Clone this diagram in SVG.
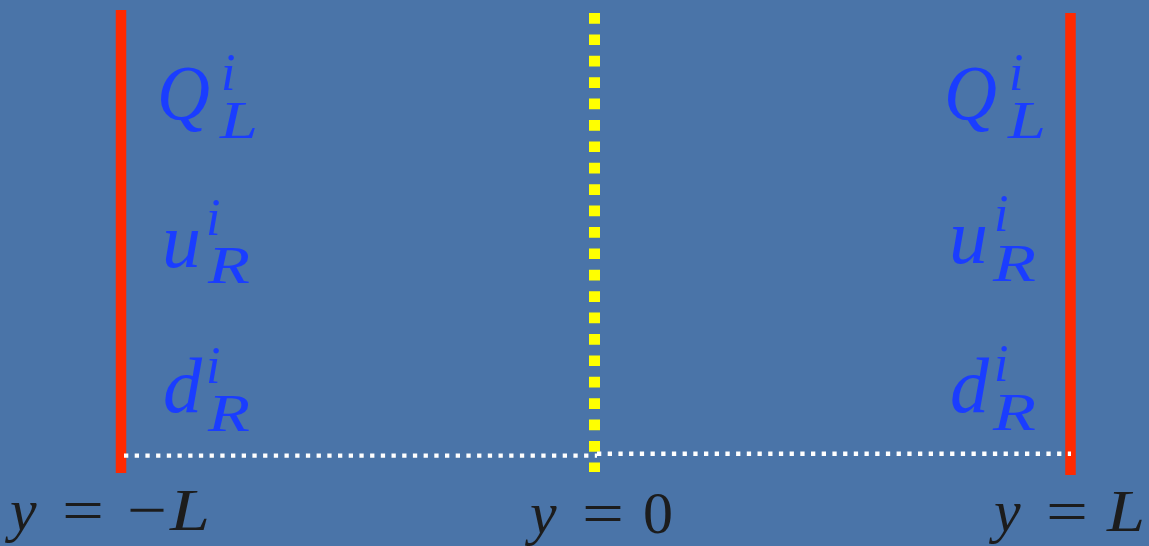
<svg xmlns="http://www.w3.org/2000/svg" width="1149" height="546" viewBox="0 0 1149 546">
<style>
.m{font-family:"Liberation Serif","DejaVu Serif",serif;font-style:italic;fill:#1a3dff}
.big{font-size:78px}
.sm{font-size:52px}
.lab{font-family:"Liberation Serif","DejaVu Serif",serif;font-size:60px;fill:#1c1c1c}
.it{font-style:italic}
.wall{stroke:#ff2a00;stroke-width:10.5}
.brane{stroke:#ffff00;stroke-width:11;stroke-dasharray:10.7 10.7}
.floor{stroke:#ffffff;stroke-width:4.4;stroke-dasharray:4.3 6.4}
</style>
<rect width="1149" height="546" fill="#4a74a8"/>
<g id="connectors">
<line class="wall" x1="121" y1="10" x2="121" y2="473"/>
<line class="wall" x1="1070.5" y1="13" x2="1070.5" y2="475"/>
<line class="brane" x1="594.5" y1="13" x2="594.5" y2="472"/>
<line class="floor" x1="124" y1="455.6" x2="597" y2="455.6"/>
<line class="floor" x1="597" y1="453.7" x2="1071" y2="453.7"/>
</g>
<g id="left-Q">
<text class="m"><tspan class="big" x="157" y="119" textLength="53" lengthAdjust="spacingAndGlyphs">Q</tspan><tspan class="sm" x="221" y="90">i</tspan><tspan class="sm" x="220" y="138" textLength="38" lengthAdjust="spacingAndGlyphs">L</tspan></text>
</g>
<g id="left-u">
<text class="m"><tspan class="big" x="162" y="267">u</tspan><tspan class="sm" x="206" y="235">i</tspan><tspan class="sm" x="208" y="283" textLength="42" lengthAdjust="spacingAndGlyphs">R</tspan></text>
</g>
<g id="left-d">
<text class="m"><tspan class="big" x="163" y="412">d</tspan><tspan class="sm" x="206" y="383">i</tspan><tspan class="sm" x="208" y="431" textLength="42" lengthAdjust="spacingAndGlyphs">R</tspan></text>
</g>
<g id="right-Q">
<text class="m"><tspan class="big" x="944" y="119" textLength="53" lengthAdjust="spacingAndGlyphs">Q</tspan><tspan class="sm" x="1009" y="90">i</tspan><tspan class="sm" x="1008" y="138" textLength="38" lengthAdjust="spacingAndGlyphs">L</tspan></text>
</g>
<g id="right-u">
<text class="m"><tspan class="big" x="949" y="263">u</tspan><tspan class="sm" x="994" y="231">i</tspan><tspan class="sm" x="993" y="281" textLength="43" lengthAdjust="spacingAndGlyphs">R</tspan></text>
</g>
<g id="right-d">
<text class="m"><tspan class="big" x="950" y="412">d</tspan><tspan class="sm" x="994" y="381">i</tspan><tspan class="sm" x="993" y="430" textLength="43" lengthAdjust="spacingAndGlyphs">R</tspan></text>
</g>
<g id="label-left">
<text class="lab"><tspan class="it" x="10" y="530">y</tspan><tspan x="62" y="530" textLength="42" lengthAdjust="spacingAndGlyphs">=</tspan><tspan x="127" y="530" textLength="40" lengthAdjust="spacingAndGlyphs">−</tspan><tspan class="it" x="170" y="530" textLength="40" lengthAdjust="spacingAndGlyphs">L</tspan></text>
</g>
<g id="label-center">
<text class="lab"><tspan class="it" x="530" y="533">y</tspan><tspan x="582" y="533" textLength="42" lengthAdjust="spacingAndGlyphs">=</tspan><tspan x="643" y="533" textLength="30" lengthAdjust="spacingAndGlyphs">0</tspan></text>
</g>
<g id="label-right">
<text class="lab"><tspan class="it" x="994" y="531">y</tspan><tspan x="1046" y="531" textLength="42" lengthAdjust="spacingAndGlyphs">=</tspan><tspan class="it" x="1107" y="531" textLength="38" lengthAdjust="spacingAndGlyphs">L</tspan></text>
</g>
</svg>
